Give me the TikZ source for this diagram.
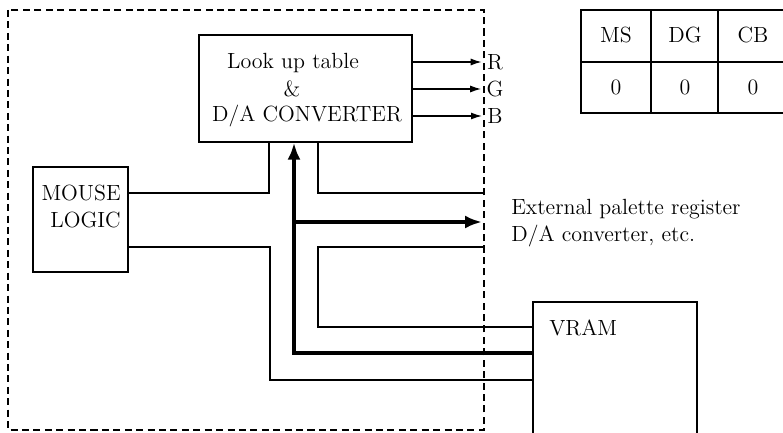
\documentclass[tikz,border=0pt]{standalone}
\usepackage{fontspec}
\usepackage{tikz}
\usetikzlibrary{arrows.meta}

\begin{document}
\begin{tikzpicture}[
    x=0.02cm, y=-0.02cm,
    font=\fontsize{12.5}{15}\selectfont,
    block/.style={draw, line width=0.8pt, inner sep=0pt},
    txt/.style={inner sep=0pt},
    wire/.style={line width=0.8pt},
    frame/.style={line width=1.1pt, dash pattern=on 4pt off 2.5pt},
    sig/.style={wire, -{Latex[length=2.2mm,width=1.4mm]}},
    bustip/.style={line width=2.3pt, -{Latex[length=3.4mm,width=2.6mm]}}
]
\useasboundingbox (0,0) rectangle (783,432);
\clip (0,0) rectangle (783,432);

% board outline
\draw[frame] (8,10) rectangle (484,430);
\coordinate (portin) at (484,193);
\coordinate (portbus) at (482,222);
\coordinate (portout) at (484,247);

% look up table
\node[block, minimum width=4.26cm, minimum height=2.14cm] (lut) at (305.5,88.5) {};
\node[txt] (lut1) at (293,63) {Look up table};
\node[txt] (lut2) at (292,89) {\&};
\node[txt] (lut3) at (307,116) {D/A CONVERTER};

% mouse logic
\node[block, minimum width=1.9cm, minimum height=2.1cm] (mouse) at (80.5,219.5) {};
\node[txt, anchor=east] (mouse1) at (121,193) {MOUSE};
\node[txt, anchor=east] (mouse2) at (121,220) {LOGIC};

% VRAM
\node[block, minimum width=3.28cm, minimum height=3.2cm] (vram) at (615,382) {};
\node[txt, anchor=west] (vlbl) at (549,328) {VRAM};

% outputs
\node[txt] (r) at (495,62) {R};
\node[txt] (g) at (495,89) {G};
\node[txt] (b) at (495,116) {B};
\draw[sig, shorten >=1mm] (lut.east |- r) -- (r.west);
\draw[sig, shorten >=1mm] (lut.east |- g) -- (g.west);
\draw[sig, shorten >=1mm] (lut.east |- b) -- (b.west);
\node[txt, anchor=west, align=left] (ext) at (511,223)
    {External palette register\\D/A converter, etc.};

% wiring
\draw[wire] (mouse.east |- 0,193) -| (lut.south -| 269,0);
\draw[wire] (mouse.east |- 0,247) -- (270,247) -- (270,380) -- (vram.west |- 0,380);
\draw[wire] (lut.south -| 318,0) |- (portin);
\draw[wire] (portout) -| (318,327) -- (vram.west |- 0,327);

% data bus
\draw[bustip] (vram.west |- 0,353) -| (lut.south -| 294,0);
\draw[bustip] (294,222) -- (portbus);

% mode register
\draw[wire] (581,10) rectangle (790,113);
\draw[wire] (581,62) -- (790,62);
\draw[wire] (651,10) -- (651,113);
\draw[wire] (718,10) -- (718,113);
\node[txt] (ms) at (616,35) {MS};
\node[txt] (dg) at (685,35) {DG};
\node[txt] (cb) at (753,35) {CB};
\node[txt] (ms0) at (616,87) {0};
\node[txt] (dg0) at (685,87) {0};
\node[txt] (cb0) at (753,87) {0};
\end{tikzpicture}
\end{document}
